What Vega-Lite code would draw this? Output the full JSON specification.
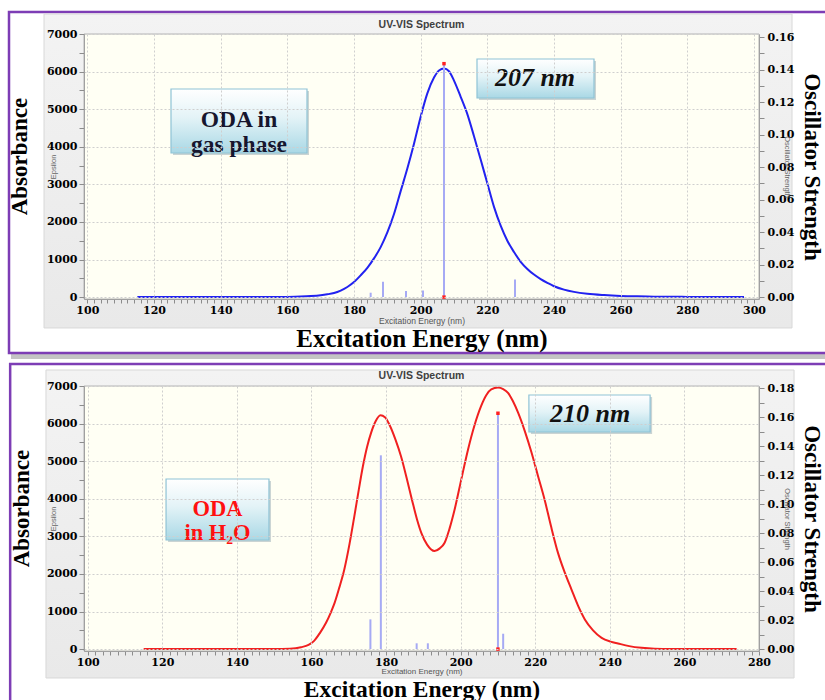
{
  "$schema": "https://vega.github.io/schema/vega-lite/v6.json",
  "background": "#ffffff",
  "autosize": {"type": "pad"},
  "padding": {"left": 7, "top": 10, "right": 0, "bottom": 0},
  "config": {"view": {"stroke": null}},
  "datasets": {
    "gasCurve": [
      {"nm": 115, "eps": 0}, {"nm": 120, "eps": 0}, {"nm": 130, "eps": 0}, {"nm": 140, "eps": 0}, {"nm": 150, "eps": 0},
      {"nm": 156, "eps": 2}, {"nm": 160, "eps": 6}, {"nm": 164, "eps": 15}, {"nm": 167, "eps": 28}, {"nm": 170, "eps": 50},
      {"nm": 172, "eps": 75}, {"nm": 174, "eps": 110}, {"nm": 176, "eps": 175}, {"nm": 178, "eps": 270}, {"nm": 180, "eps": 400},
      {"nm": 182, "eps": 580}, {"nm": 184, "eps": 780}, {"nm": 186, "eps": 1030}, {"nm": 188, "eps": 1330}, {"nm": 190, "eps": 1720},
      {"nm": 192, "eps": 2210}, {"nm": 194, "eps": 2820}, {"nm": 196, "eps": 3420}, {"nm": 198, "eps": 4080}, {"nm": 200, "eps": 4800},
      {"nm": 202, "eps": 5420}, {"nm": 204, "eps": 5840}, {"nm": 205.5, "eps": 6030}, {"nm": 207, "eps": 6080}, {"nm": 208.5, "eps": 6010},
      {"nm": 210, "eps": 5760}, {"nm": 212, "eps": 5330}, {"nm": 214, "eps": 4870}, {"nm": 216, "eps": 4280}, {"nm": 218, "eps": 3660},
      {"nm": 220, "eps": 3030}, {"nm": 222, "eps": 2400}, {"nm": 224, "eps": 1900}, {"nm": 226, "eps": 1500}, {"nm": 228, "eps": 1200},
      {"nm": 230, "eps": 940}, {"nm": 232, "eps": 750}, {"nm": 234, "eps": 600}, {"nm": 236, "eps": 480}, {"nm": 238, "eps": 380},
      {"nm": 240, "eps": 290}, {"nm": 243, "eps": 200}, {"nm": 246, "eps": 140}, {"nm": 250, "eps": 90}, {"nm": 255, "eps": 55},
      {"nm": 260, "eps": 32}, {"nm": 265, "eps": 20}, {"nm": 270, "eps": 13}, {"nm": 280, "eps": 6}, {"nm": 290, "eps": 3}, {"nm": 297, "eps": 1}
    ],
    "gasSticks": [
      {"nm": 185.0, "f": 0.0027}, {"nm": 188.7, "f": 0.0094}, {"nm": 195.6, "f": 0.0037},
      {"nm": 200.7, "f": 0.0041}, {"nm": 207.0, "f": 0.1436}, {"nm": 228.3, "f": 0.0109}
    ],
    "waterCurve": [
      {"nm": 115, "eps": 0}, {"nm": 120, "eps": 0}, {"nm": 130, "eps": 0}, {"nm": 140, "eps": 0}, {"nm": 150, "eps": 0},
      {"nm": 154.2, "eps": 10}, {"nm": 157.2, "eps": 50}, {"nm": 159.2, "eps": 110}, {"nm": 160.7, "eps": 220}, {"nm": 162.2, "eps": 420},
      {"nm": 163.9, "eps": 700}, {"nm": 165.2, "eps": 980}, {"nm": 166.2, "eps": 1230}, {"nm": 167.5, "eps": 1650}, {"nm": 168.8, "eps": 2120},
      {"nm": 170.2, "eps": 2800}, {"nm": 171.5, "eps": 3540}, {"nm": 172.7, "eps": 4250}, {"nm": 173.8, "eps": 4870}, {"nm": 174.9, "eps": 5380},
      {"nm": 176, "eps": 5760}, {"nm": 177.2, "eps": 6060}, {"nm": 178.5, "eps": 6220}, {"nm": 179.7, "eps": 6170}, {"nm": 181, "eps": 5950},
      {"nm": 182.5, "eps": 5580}, {"nm": 184, "eps": 5130}, {"nm": 185.5, "eps": 4560}, {"nm": 187, "eps": 3950}, {"nm": 188.3, "eps": 3450},
      {"nm": 189.5, "eps": 3080}, {"nm": 191, "eps": 2780}, {"nm": 193, "eps": 2610}, {"nm": 194.4, "eps": 2680}, {"nm": 195.7, "eps": 2830},
      {"nm": 197, "eps": 3200}, {"nm": 198.4, "eps": 3720}, {"nm": 200.2, "eps": 4530}, {"nm": 202, "eps": 5320}, {"nm": 203.7, "eps": 5950},
      {"nm": 205.5, "eps": 6470}, {"nm": 206.9, "eps": 6760}, {"nm": 208.2, "eps": 6910}, {"nm": 210, "eps": 6960}, {"nm": 211.4, "eps": 6920},
      {"nm": 212.7, "eps": 6820}, {"nm": 214, "eps": 6600}, {"nm": 215.4, "eps": 6290}, {"nm": 217.2, "eps": 5800}, {"nm": 219, "eps": 5230},
      {"nm": 220.7, "eps": 4620}, {"nm": 222.5, "eps": 3980}, {"nm": 224.2, "eps": 3280}, {"nm": 226.1, "eps": 2560}, {"nm": 227.9, "eps": 2040},
      {"nm": 229.7, "eps": 1590}, {"nm": 231.5, "eps": 1150}, {"nm": 233.3, "eps": 790}, {"nm": 235.5, "eps": 500}, {"nm": 237.8, "eps": 300},
      {"nm": 240.2, "eps": 200}, {"nm": 242.2, "eps": 150}, {"nm": 245.2, "eps": 80}, {"nm": 248.5, "eps": 35}, {"nm": 252, "eps": 12},
      {"nm": 258, "eps": 4}, {"nm": 265, "eps": 1}, {"nm": 274, "eps": 0}
    ],
    "waterSticks": [
      {"nm": 175.8, "f": 0.0205}, {"nm": 178.6, "f": 0.1336}, {"nm": 188.2, "f": 0.004},
      {"nm": 191.2, "f": 0.004}, {"nm": 210.0, "f": 0.1626}, {"nm": 211.4, "f": 0.0106}
    ]
  },
  "vconcat": [
    {
      "width": 675,
      "height": 265,
      "resolve": {"scale": {"y": "independent"}, "axis": {"x": "independent", "y": "independent"}},
      "layer": [
        {
          "data": {"values": [{}]},
          "mark": {"type": "rect", "fill": "#c4c4c4"},
          "encoding": {
            "x": {"datum": 77.1, "type": "quantitative", "scale": {"domain": [99, 301.5], "nice": false, "zero": false}, "axis": null},
            "x2": {"datum": 323.7},
            "y": {"datum": 7532, "type": "quantitative", "scale": {"domain": [-50, 7000], "nice": false, "zero": false}, "axis": null},
            "y2": {"datum": -1646}
          }
        },
        {
          "data": {"values": [{}]},
          "mark": {"type": "rect", "fill": "#ffffff", "stroke": "#7d3db5", "strokeWidth": 2.5},
          "encoding": {
            "x": {"datum": 76.5, "type": "quantitative", "scale": {"domain": [99, 301.5], "nice": false, "zero": false}, "axis": null},
            "x2": {"datum": 323.7},
            "y": {"datum": 7585, "type": "quantitative", "scale": {"domain": [-50, 7000], "nice": false, "zero": false}, "axis": null},
            "y2": {"datum": -1487}
          }
        },
        {
          "data": {"values": [{}]},
          "mark": {"type": "rect", "stroke": "#d8d8d8", "strokeWidth": 1,
            "fill": {"gradient": "linear", "x1": 0, "y1": 0, "x2": 0, "y2": 1, "stops": [{"offset": 0, "color": "#f3f3f3"}, {"offset": 1, "color": "#e9e9e9"}]}},
          "encoding": {
            "x": {"datum": 87.0, "type": "quantitative", "scale": {"domain": [99, 301.5], "nice": false, "zero": false}, "axis": null},
            "x2": {"datum": 311.4},
            "y": {"datum": 7532, "type": "quantitative", "scale": {"domain": [-50, 7000], "nice": false, "zero": false}, "axis": null},
            "y2": {"datum": -821}
          }
        },
        {
          "data": {"values": [{}]},
          "mark": {"type": "rect", "fill": "#fffff4", "stroke": "#b4b4b4", "strokeWidth": 1},
          "encoding": {
            "x": {"datum": 99, "type": "quantitative", "scale": {"domain": [99, 301.5], "nice": false, "zero": false},
              "axis": {"orient": "bottom", "zindex": 1, "title": "Excitation Energy (nm)", "titleFont": "Liberation Sans", "titleFontSize": 8.5, "titleFontWeight": "normal", "titleColor": "#555555", "titlePadding": 17, "labels": false, "ticks": false, "domain": false, "grid": false}},
            "x2": {"datum": 301.5},
            "y": {"datum": 7000, "type": "quantitative", "scale": {"domain": [-50, 7000], "nice": false, "zero": false},
              "axis": {"orient": "left", "zindex": 1, "title": "Epsilon", "titleFont": "Liberation Sans", "titleFontSize": 7.5, "titleFontWeight": "normal", "titleColor": "#666666", "titlePadding": 27, "labels": false, "ticks": false, "domain": false, "grid": false}},
            "y2": {"datum": -50}
          }
        },
        {
          "data": {"values": [{}]},
          "mark": {"type": "text", "font": "Liberation Sans", "fontSize": 10.5, "fontWeight": "bold", "color": "#404040", "align": "center", "baseline": "middle"},
          "encoding": {
            "x": {"datum": 200.25, "type": "quantitative", "scale": {"domain": [99, 301.5], "nice": false, "zero": false}, "axis": null},
            "y": {"datum": 7239, "type": "quantitative", "scale": {"domain": [-50, 7000], "nice": false, "zero": false}, "axis": null},
            "text": {"value": "UV-VIS Spectrum"}
          }
        },
        {
          "data": {"name": "gasCurve"},
          "mark": {"type": "line", "color": "#2222f0", "strokeWidth": 2, "interpolate": "monotone"},
          "encoding": {
            "x": {"field": "nm", "type": "quantitative", "scale": {"domain": [99, 301.5], "nice": false, "zero": false},
              "axis": {"orient": "bottom", "zindex": 1, "title": "Excitation Energy (nm)", "titleFont": "Liberation Serif", "titleFontSize": 25, "titleFontWeight": "bold", "titleColor": "#000000", "titlePadding": 11,
                "tickCount": 100, "labelExpr": "datum.value % 20 === 0 ? datum.label : ''", "labelOverlap": false, "labelFlush": false, "labelDx": 4,
                "labelFont": "DejaVu Serif", "labelFontSize": 11, "labelFontWeight": "bold", "labelColor": "#000000", "labelPadding": 1,
                "tickSize": 4, "tickColor": "#8c8c8c", "domainColor": "#a0a0a0",
                "grid": true, "gridColor": "#cfcfcf", "gridDash": [2, 2], "gridOpacity": {"condition": {"test": "datum.value % 20 === 0", "value": 1}, "value": 0}}},
            "y": {"field": "eps", "type": "quantitative", "scale": {"domain": [-50, 7000], "nice": false, "zero": false},
              "axis": {"orient": "left", "zindex": 1, "title": "Absorbance", "titleFont": "Liberation Serif", "titleFontSize": 23, "titleFontWeight": "bold", "titleColor": "#000000", "titlePadding": 15, "titleY": 122,
                "tickCount": 14, "format": "d", "labelExpr": "datum.value % 1000 === 0 ? datum.label : ''", "labelOverlap": false,
                "labelFont": "DejaVu Serif", "labelFontSize": 11, "labelFontWeight": "bold", "labelColor": "#000000", "labelPadding": 2,
                "tickSize": 5, "tickColor": "#8c8c8c", "domainColor": "#a0a0a0",
                "grid": true, "gridColor": "#cfcfcf", "gridDash": [2, 2], "gridOpacity": {"condition": {"test": "datum.value % 1000 === 0", "value": 1}, "value": 0}}}
          }
        },
        {
          "data": {"name": "gasSticks"},
          "mark": {"type": "rule", "color": "#a6aaf4", "strokeWidth": 2},
          "encoding": {
            "x": {"field": "nm", "type": "quantitative", "scale": {"domain": [99, 301.5], "nice": false, "zero": false}, "axis": null},
            "y": {"field": "f", "type": "quantitative", "scale": {"domain": [-0.00117, 0.16185], "nice": false, "zero": false},
              "axis": {"orient": "right", "zindex": 1, "title": "Oscillator Strength", "titleFont": "Liberation Serif", "titleFontSize": 23, "titleFontWeight": "bold", "titleColor": "#000000", "titlePadding": 6,
                "tickCount": 16, "format": ".2f", "labelExpr": "round(datum.value * 100) % 2 === 0 ? datum.label : ''", "labelOverlap": false,
                "labelFont": "DejaVu Serif", "labelFontSize": 11, "labelFontWeight": "bold", "labelColor": "#000000", "labelPadding": 3,
                "tickSize": 5, "tickColor": "#8c8c8c", "domainColor": "#a0a0a0", "grid": false}},
            "y2": {"datum": 0}
          }
        },
        {
          "data": {"name": "gasSticks"},
          "transform": [{"filter": "datum.f > 0.1"}],
          "mark": {"type": "square", "color": "#ff2020", "size": 12, "opacity": 1, "filled": true},
          "encoding": {
            "x": {"field": "nm", "type": "quantitative", "scale": {"domain": [99, 301.5], "nice": false, "zero": false}, "axis": null},
            "y": {"field": "f", "type": "quantitative", "scale": {"domain": [-0.00117, 0.16185], "nice": false, "zero": false},
              "axis": {"orient": "right", "zindex": 1, "title": "Oscillator Strength", "titleFont": "Liberation Sans", "titleFontSize": 7.5, "titleFontWeight": "normal", "titleColor": "#666666", "titlePadding": 23, "labels": false, "ticks": false, "domain": false, "grid": false}}
          }
        },
        {
          "data": {"name": "gasSticks"},
          "transform": [{"filter": "datum.f > 0.1"}],
          "mark": {"type": "square", "color": "#ff2020", "size": 12, "opacity": 1, "filled": true},
          "encoding": {
            "x": {"field": "nm", "type": "quantitative", "scale": {"domain": [99, 301.5], "nice": false, "zero": false}, "axis": null},
            "y": {"datum": 0, "type": "quantitative", "scale": {"domain": [-0.00117, 0.16185], "nice": false, "zero": false}, "axis": null}
          }
        },
        {
          "data": {"values": [{}]},
          "mark": {"type": "rect", "fill": "#9fb0b8", "opacity": 0.55},
          "encoding": {
            "x": {"datum": 125.7, "type": "quantitative", "scale": {"domain": [99, 301.5], "nice": false, "zero": false}, "axis": null},
            "x2": {"datum": 166.5},
            "y": {"datum": 5484, "type": "quantitative", "scale": {"domain": [-50, 7000], "nice": false, "zero": false}, "axis": null},
            "y2": {"datum": 3781}
          }
        },
        {
          "data": {"values": [{}]},
          "mark": {"type": "rect", "stroke": "#8fc3d6", "strokeWidth": 1.2,
            "fill": {"gradient": "linear", "x1": 0, "y1": 0, "x2": 0, "y2": 1, "stops": [{"offset": 0, "color": "#ffffff"}, {"offset": 0.45, "color": "#e3f3f7"}, {"offset": 1, "color": "#a9d8e5"}]}},
          "encoding": {
            "x": {"datum": 125.1, "type": "quantitative", "scale": {"domain": [99, 301.5], "nice": false, "zero": false}, "axis": null},
            "x2": {"datum": 165.9},
            "y": {"datum": 5537, "type": "quantitative", "scale": {"domain": [-50, 7000], "nice": false, "zero": false}, "axis": null},
            "y2": {"datum": 3834}
          }
        },
        {
          "data": {"values": [{}]},
          "mark": {"type": "text", "font": "Liberation Serif", "fontSize": 23.5, "fontWeight": "bold", "color": "#16162e", "align": "center", "baseline": "middle", "lineHeight": 24.5},
          "encoding": {
            "x": {"datum": 145.5, "type": "quantitative", "scale": {"domain": [99, 301.5], "nice": false, "zero": false}, "axis": null},
            "y": {"datum": 4712, "type": "quantitative", "scale": {"domain": [-50, 7000], "nice": false, "zero": false}, "axis": null},
            "text": {"value": ["ODA in", "gas phase"]}
          }
        },
        {
          "data": {"values": [{}]},
          "mark": {"type": "rect", "fill": "#9fb0b8", "opacity": 0.55},
          "encoding": {
            "x": {"datum": 217.5, "type": "quantitative", "scale": {"domain": [99, 301.5], "nice": false, "zero": false}, "axis": null},
            "x2": {"datum": 252.6},
            "y": {"datum": 6282, "type": "quantitative", "scale": {"domain": [-50, 7000], "nice": false, "zero": false}, "axis": null},
            "y2": {"datum": 5244}
          }
        },
        {
          "data": {"values": [{}]},
          "mark": {"type": "rect", "stroke": "#8fc3d6", "strokeWidth": 1.2,
            "fill": {"gradient": "linear", "x1": 0, "y1": 0, "x2": 0, "y2": 1, "stops": [{"offset": 0, "color": "#ffffff"}, {"offset": 0.45, "color": "#e3f3f7"}, {"offset": 1, "color": "#a9d8e5"}]}},
          "encoding": {
            "x": {"datum": 216.9, "type": "quantitative", "scale": {"domain": [99, 301.5], "nice": false, "zero": false}, "axis": null},
            "x2": {"datum": 252.0},
            "y": {"datum": 6335, "type": "quantitative", "scale": {"domain": [-50, 7000], "nice": false, "zero": false}, "axis": null},
            "y2": {"datum": 5297}
          }
        },
        {
          "data": {"values": [{}]},
          "mark": {"type": "text", "font": "Liberation Serif", "fontSize": 26, "fontWeight": "bold", "fontStyle": "italic", "color": "#111111", "align": "center", "baseline": "middle"},
          "encoding": {
            "x": {"datum": 234.3, "type": "quantitative", "scale": {"domain": [99, 301.5], "nice": false, "zero": false}, "axis": null},
            "y": {"datum": 5829, "type": "quantitative", "scale": {"domain": [-50, 7000], "nice": false, "zero": false}, "axis": null},
            "text": {"value": "207 nm"}
          }
        }
      ]
    },
    {
      "width": 675,
      "height": 265,
      "resolve": {"scale": {"y": "independent"}, "axis": {"x": "independent", "y": "independent"}},
      "layer": [
        {
          "data": {"values": [{}]},
          "mark": {"type": "rect", "fill": "#ffffff", "stroke": "#7d3db5", "strokeWidth": 2.5},
          "encoding": {
            "x": {"datum": 79.2, "type": "quantitative", "scale": {"domain": [99, 280], "nice": false, "zero": false}, "axis": null},
            "x2": {"datum": 299.8},
            "y": {"datum": 7585, "type": "quantitative", "scale": {"domain": [-50, 7000], "nice": false, "zero": false}, "axis": null},
            "y2": {"datum": -1912}
          }
        },
        {
          "data": {"values": [{}]},
          "mark": {"type": "rect", "stroke": "#d8d8d8", "strokeWidth": 1,
            "fill": {"gradient": "linear", "x1": 0, "y1": 0, "x2": 0, "y2": 1, "stops": [{"offset": 0, "color": "#f3f3f3"}, {"offset": 1, "color": "#e9e9e9"}]}},
          "encoding": {
            "x": {"datum": 88.8, "type": "quantitative", "scale": {"domain": [99, 280], "nice": false, "zero": false}, "axis": null},
            "x2": {"datum": 289.4},
            "y": {"datum": 7426, "type": "quantitative", "scale": {"domain": [-50, 7000], "nice": false, "zero": false}, "axis": null},
            "y2": {"datum": -768}
          }
        },
        {
          "data": {"values": [{}]},
          "mark": {"type": "rect", "fill": "#fffff4", "stroke": "#b4b4b4", "strokeWidth": 1},
          "encoding": {
            "x": {"datum": 99, "type": "quantitative", "scale": {"domain": [99, 280], "nice": false, "zero": false},
              "axis": {"orient": "bottom", "zindex": 1, "title": "Excitation Energy (nm)", "titleFont": "Liberation Sans", "titleFontSize": 8, "titleFontWeight": "normal", "titleColor": "#555555", "titlePadding": 16, "labels": false, "ticks": false, "domain": false, "grid": false}},
            "x2": {"datum": 280},
            "y": {"datum": 7000, "type": "quantitative", "scale": {"domain": [-50, 7000], "nice": false, "zero": false},
              "axis": {"orient": "left", "zindex": 1, "title": "Epsilon", "titleFont": "Liberation Sans", "titleFontSize": 7.5, "titleFontWeight": "normal", "titleColor": "#666666", "titlePadding": 27, "labels": false, "ticks": false, "domain": false, "grid": false}},
            "y2": {"datum": -50}
          }
        },
        {
          "data": {"values": [{}]},
          "mark": {"type": "text", "font": "Liberation Sans", "fontSize": 10.5, "fontWeight": "bold", "color": "#404040", "align": "center", "baseline": "middle"},
          "encoding": {
            "x": {"datum": 189.5, "type": "quantitative", "scale": {"domain": [99, 280], "nice": false, "zero": false}, "axis": null},
            "y": {"datum": 7266, "type": "quantitative", "scale": {"domain": [-50, 7000], "nice": false, "zero": false}, "axis": null},
            "text": {"value": "UV-VIS Spectrum"}
          }
        },
        {
          "data": {"name": "waterCurve"},
          "mark": {"type": "line", "color": "#f02020", "strokeWidth": 2, "interpolate": "monotone"},
          "encoding": {
            "x": {"field": "nm", "type": "quantitative", "scale": {"domain": [99, 280], "nice": false, "zero": false},
              "axis": {"orient": "bottom", "zindex": 1, "title": "Excitation Energy (nm)", "titleFont": "Liberation Serif", "titleFontSize": 23.5, "titleFontWeight": "bold", "titleColor": "#000000", "titlePadding": 10,
                "tickCount": 90, "labelExpr": "datum.value % 20 === 0 ? datum.label : ''", "labelOverlap": false, "labelFlush": false,
                "labelFont": "DejaVu Serif", "labelFontSize": 11, "labelFontWeight": "bold", "labelColor": "#000000", "labelPadding": 1,
                "tickSize": 4, "tickColor": "#8c8c8c", "domainColor": "#a0a0a0",
                "grid": true, "gridColor": "#cfcfcf", "gridDash": [2, 2], "gridOpacity": {"condition": {"test": "datum.value % 20 === 0", "value": 1}, "value": 0}}},
            "y": {"field": "eps", "type": "quantitative", "scale": {"domain": [-50, 7000], "nice": false, "zero": false},
              "axis": {"orient": "left", "zindex": 1, "title": "Absorbance", "titleFont": "Liberation Serif", "titleFontSize": 23, "titleFontWeight": "bold", "titleColor": "#000000", "titlePadding": 13, "titleY": 122,
                "tickCount": 14, "format": "d", "labelExpr": "datum.value % 1000 === 0 ? datum.label : ''", "labelOverlap": false,
                "labelFont": "DejaVu Serif", "labelFontSize": 11, "labelFontWeight": "bold", "labelColor": "#000000", "labelPadding": 2,
                "tickSize": 5, "tickColor": "#8c8c8c", "domainColor": "#a0a0a0",
                "grid": true, "gridColor": "#cfcfcf", "gridDash": [2, 2], "gridOpacity": {"condition": {"test": "datum.value % 1000 === 0", "value": 1}, "value": 0}}}
          }
        },
        {
          "data": {"name": "waterSticks"},
          "mark": {"type": "rule", "color": "#a6aaf4", "strokeWidth": 2},
          "encoding": {
            "x": {"field": "nm", "type": "quantitative", "scale": {"domain": [99, 280], "nice": false, "zero": false}, "axis": null},
            "y": {"field": "f", "type": "quantitative", "scale": {"domain": [-0.00131, 0.18138], "nice": false, "zero": false},
              "axis": {"orient": "right", "zindex": 1, "title": "Oscillator Strength", "titleFont": "Liberation Serif", "titleFontSize": 23, "titleFontWeight": "bold", "titleColor": "#000000", "titlePadding": 6,
                "tickCount": 18, "format": ".2f", "labelExpr": "round(datum.value * 100) % 2 === 0 ? datum.label : ''", "labelOverlap": false,
                "labelFont": "DejaVu Serif", "labelFontSize": 11, "labelFontWeight": "bold", "labelColor": "#000000", "labelPadding": 3,
                "tickSize": 5, "tickColor": "#8c8c8c", "domainColor": "#a0a0a0", "grid": false}},
            "y2": {"datum": 0}
          }
        },
        {
          "data": {"name": "waterSticks"},
          "transform": [{"filter": "datum.f > 0.15"}],
          "mark": {"type": "square", "color": "#ff2020", "size": 12, "opacity": 1, "filled": true},
          "encoding": {
            "x": {"field": "nm", "type": "quantitative", "scale": {"domain": [99, 280], "nice": false, "zero": false}, "axis": null},
            "y": {"field": "f", "type": "quantitative", "scale": {"domain": [-0.00131, 0.18138], "nice": false, "zero": false},
              "axis": {"orient": "right", "zindex": 1, "title": "Oscillator Strength", "titleFont": "Liberation Sans", "titleFontSize": 7.5, "titleFontWeight": "normal", "titleColor": "#666666", "titlePadding": 23, "labels": false, "ticks": false, "domain": false, "grid": false}}
          }
        },
        {
          "data": {"name": "waterSticks"},
          "transform": [{"filter": "datum.f > 0.15"}],
          "mark": {"type": "square", "color": "#ff2020", "size": 12, "opacity": 1, "filled": true},
          "encoding": {
            "x": {"field": "nm", "type": "quantitative", "scale": {"domain": [99, 280], "nice": false, "zero": false}, "axis": null},
            "y": {"datum": 0, "type": "quantitative", "scale": {"domain": [-0.00131, 0.18138], "nice": false, "zero": false}, "axis": null}
          }
        },
        {
          "data": {"values": [{}]},
          "mark": {"type": "rect", "fill": "#9fb0b8", "opacity": 0.55},
          "encoding": {
            "x": {"datum": 121.54, "type": "quantitative", "scale": {"domain": [99, 280], "nice": false, "zero": false}, "axis": null},
            "x2": {"datum": 149.14},
            "y": {"datum": 4473, "type": "quantitative", "scale": {"domain": [-50, 7000], "nice": false, "zero": false}, "axis": null},
            "y2": {"datum": 2850}
          }
        },
        {
          "data": {"values": [{}]},
          "mark": {"type": "rect", "stroke": "#8fc3d6", "strokeWidth": 1.2,
            "fill": {"gradient": "linear", "x1": 0, "y1": 0, "x2": 0, "y2": 1, "stops": [{"offset": 0, "color": "#ffffff"}, {"offset": 0.45, "color": "#e3f3f7"}, {"offset": 1, "color": "#a9d8e5"}]}},
          "encoding": {
            "x": {"datum": 121.0, "type": "quantitative", "scale": {"domain": [99, 280], "nice": false, "zero": false}, "axis": null},
            "x2": {"datum": 148.6},
            "y": {"datum": 4526, "type": "quantitative", "scale": {"domain": [-50, 7000], "nice": false, "zero": false}, "axis": null},
            "y2": {"datum": 2903}
          }
        },
        {
          "data": {"values": [{}]},
          "mark": {"type": "text", "font": "Liberation Serif", "fontSize": 22.5, "fontWeight": "bold", "color": "#ff1010", "align": "center", "baseline": "middle", "lineHeight": 24},
          "encoding": {
            "x": {"datum": 134.8, "type": "quantitative", "scale": {"domain": [99, 280], "nice": false, "zero": false}, "axis": null},
            "y": {"datum": 3741, "type": "quantitative", "scale": {"domain": [-50, 7000], "nice": false, "zero": false}, "axis": null},
            "text": {"value": ["ODA", "in H₂O"]}
          }
        },
        {
          "data": {"values": [{}]},
          "mark": {"type": "rect", "fill": "#9fb0b8", "opacity": 0.55},
          "encoding": {
            "x": {"datum": 218.84, "type": "quantitative", "scale": {"domain": [99, 280], "nice": false, "zero": false}, "axis": null},
            "x2": {"datum": 251.34},
            "y": {"datum": 6708, "type": "quantitative", "scale": {"domain": [-50, 7000], "nice": false, "zero": false}, "axis": null},
            "y2": {"datum": 5723}
          }
        },
        {
          "data": {"values": [{}]},
          "mark": {"type": "rect", "stroke": "#8fc3d6", "strokeWidth": 1.2,
            "fill": {"gradient": "linear", "x1": 0, "y1": 0, "x2": 0, "y2": 1, "stops": [{"offset": 0, "color": "#ffffff"}, {"offset": 0.45, "color": "#e3f3f7"}, {"offset": 1, "color": "#a9d8e5"}]}},
          "encoding": {
            "x": {"datum": 218.3, "type": "quantitative", "scale": {"domain": [99, 280], "nice": false, "zero": false}, "axis": null},
            "x2": {"datum": 250.8},
            "y": {"datum": 6761, "type": "quantitative", "scale": {"domain": [-50, 7000], "nice": false, "zero": false}, "axis": null},
            "y2": {"datum": 5776}
          }
        },
        {
          "data": {"values": [{}]},
          "mark": {"type": "text", "font": "Liberation Serif", "fontSize": 26, "fontWeight": "bold", "fontStyle": "italic", "color": "#111111", "align": "center", "baseline": "middle"},
          "encoding": {
            "x": {"datum": 234.7, "type": "quantitative", "scale": {"domain": [99, 280], "nice": false, "zero": false}, "axis": null},
            "y": {"datum": 6255, "type": "quantitative", "scale": {"domain": [-50, 7000], "nice": false, "zero": false}, "axis": null},
            "text": {"value": "210 nm"}
          }
        }
      ]
    }
  ],
  "spacing": 87,
  "bounds": "flush"
}
